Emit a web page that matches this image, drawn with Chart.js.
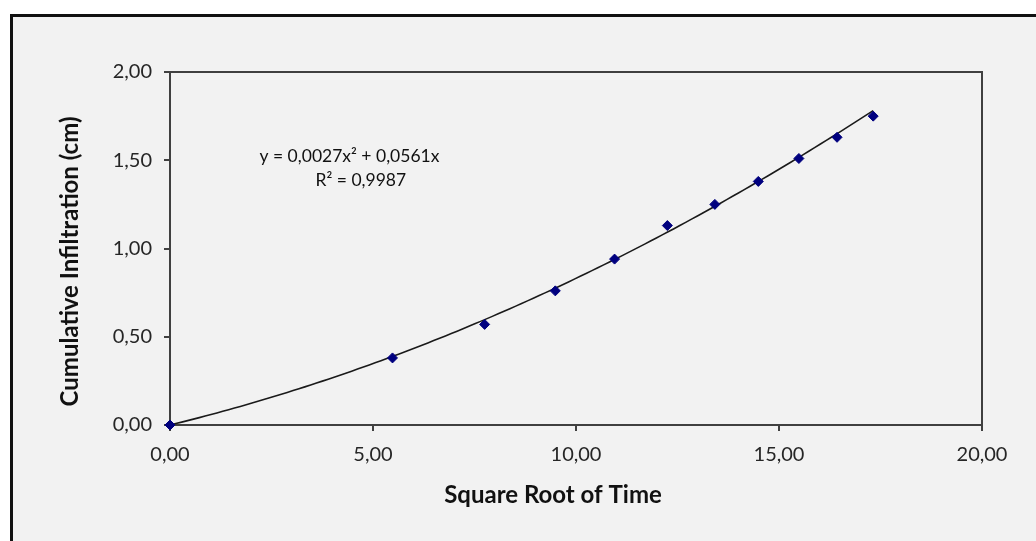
<!DOCTYPE html>
<html lang="en">
<head>
  <meta charset="UTF-8">
  <title>Cumulative Infiltration</title>
  <script src="https://cdn.jsdelivr.net/npm/chart.js@4.4.1/dist/chart.umd.min.js"></script>
  <style>
    html, body { margin: 0; padding: 0; background: #ffffff; }
    canvas { display: block; }
  </style>
</head>
<body>
  <canvas id="infChart" width="1036" height="541"></canvas>

  <script>
    // values
    const sqrtTime = [0, 5.48, 7.75, 9.49, 10.95, 12.25, 13.42, 14.49, 15.49, 16.43, 17.32];
    const infiltration = [0, 0.38, 0.57, 0.76, 0.94, 1.13, 1.25, 1.38, 1.51, 1.63, 1.75];

    // polynomial trendline shown on the chart: y = a*x^2 + b*x
    const trendA = 0.0027;
    const trendB = 0.0561;
    const trendText = ['y = 0,0027x\u00B2 + 0,0561x', 'R\u00B2 = 0,9987'];

    const xTitle = 'Square Root of Time';
    const yTitle = 'Cumulative Infiltration (cm)';

    const fontFamily = 'Lato, "Open Sans", sans-serif';
    const axisColor = '#404040';

    function commaFmt(v) {
      return Number(v).toFixed(2).replace('.', ',');
    }

    const points = sqrtTime.map((x, i) => ({ x: x, y: infiltration[i] }));

    // grey panel with the dark frame at top and left, plus plot box and axis titles
    const panelPlugin = {
      id: 'panel',
      beforeDraw(chart) {
        const { ctx, width, height } = chart;
        ctx.save();
        ctx.fillStyle = '#ffffff';
        ctx.fillRect(0, 0, width, height);
        ctx.fillStyle = '#f2f2f2';
        ctx.fillRect(12, 16, width - 12, height - 16);
        ctx.strokeStyle = '#111111';
        ctx.lineWidth = 3;
        ctx.beginPath();
        ctx.moveTo(11.5, height);
        ctx.lineTo(11.5, 15.5);
        ctx.lineTo(width, 15.5);
        ctx.stroke();
        ctx.restore();
      },
      beforeDatasetsDraw(chart) {
        const { ctx, chartArea } = chart;
        ctx.save();
        ctx.strokeStyle = axisColor;
        ctx.lineWidth = 2;
        ctx.strokeRect(chartArea.left, chartArea.top,
          chartArea.right - chartArea.left, chartArea.bottom - chartArea.top);

        // axis titles (Excel puts them a bit off-centre)
        ctx.fillStyle = '#111111';
        ctx.font = 'bold 24px ' + fontFamily;
        ctx.textAlign = 'center';
        ctx.textBaseline = 'middle';
        const midX = (chartArea.left + chartArea.right) / 2;
        const midY = (chartArea.top + chartArea.bottom) / 2;
        ctx.fillText(xTitle, midX - 23, chartArea.bottom + 70);
        ctx.translate(70, midY + 13);
        ctx.rotate(-Math.PI / 2);
        ctx.fillText(yTitle, 0, 0);
        ctx.restore();
      }
    };

    // trendline curve + equation text
    const trendPlugin = {
      id: 'trend',
      beforeDatasetsDraw(chart) {
        const { ctx } = chart;
        const xs = chart.scales.x;
        const ys = chart.scales.y;
        const xMax = sqrtTime[sqrtTime.length - 1];
        const steps = 120;
        ctx.save();
        ctx.strokeStyle = '#1a1a1a';
        ctx.lineWidth = 1.6;
        ctx.beginPath();
        for (let i = 0; i <= steps; i++) {
          const x = xMax * i / steps;
          const y = trendA * x * x + trendB * x;
          const px = xs.getPixelForValue(x);
          const py = ys.getPixelForValue(y);
          if (i === 0) ctx.moveTo(px, py); else ctx.lineTo(px, py);
        }
        ctx.stroke();

        ctx.fillStyle = '#111111';
        ctx.font = '17.5px ' + fontFamily;
        ctx.textAlign = 'center';
        ctx.textBaseline = 'middle';
        ctx.fillText(trendText[0], xs.getPixelForValue(4.42), ys.getPixelForValue(1.52));
        ctx.fillText(trendText[1], xs.getPixelForValue(4.7), ys.getPixelForValue(1.385));
        ctx.restore();
      }
    };

    new Chart(document.getElementById('infChart').getContext('2d'), {
      type: 'scatter',
      data: {
        datasets: [{
          label: 'Cumulative Infiltration',
          data: points,
          clip: false,
          pointStyle: 'rectRot',
          pointRadius: 5,
          pointHoverRadius: 5,
          backgroundColor: '#00007f',
          borderColor: '#00007f',
          borderWidth: 1
        }]
      },
      options: {
        responsive: false,
        animation: false,
        events: [],
        layout: {
          padding: { left: 55, top: 72, right: 54, bottom: 31 }
        },
        plugins: {
          legend: { display: false },
          tooltip: { enabled: false }
        },
        scales: {
          x: {
            type: 'linear',
            min: 0,
            max: 20,
            afterFit(scale) { scale.height = 85; },
            border: { display: true, color: axisColor, width: 2 },
            grid: {
              drawOnChartArea: false,
              drawTicks: true,
              tickLength: 6,
              color: axisColor,
              lineWidth: 2
            },
            ticks: {
              stepSize: 5,
              padding: 12,
              maxRotation: 0,
              color: '#262626',
              font: { family: fontFamily, size: 20 },
              callback: commaFmt
            }
          },
          y: {
            type: 'linear',
            min: 0,
            max: 2,
            afterFit(scale) { scale.width = 115; },
            border: { display: true, color: axisColor, width: 2 },
            grid: {
              drawOnChartArea: false,
              drawTicks: true,
              tickLength: 6,
              color: axisColor,
              lineWidth: 2
            },
            ticks: {
              stepSize: 0.5,
              padding: 12,
              color: '#262626',
              font: { family: fontFamily, size: 20 },
              callback: commaFmt
            }
          }
        }
      },
      plugins: [panelPlugin, trendPlugin]
    });
  </script>
</body>
</html>
